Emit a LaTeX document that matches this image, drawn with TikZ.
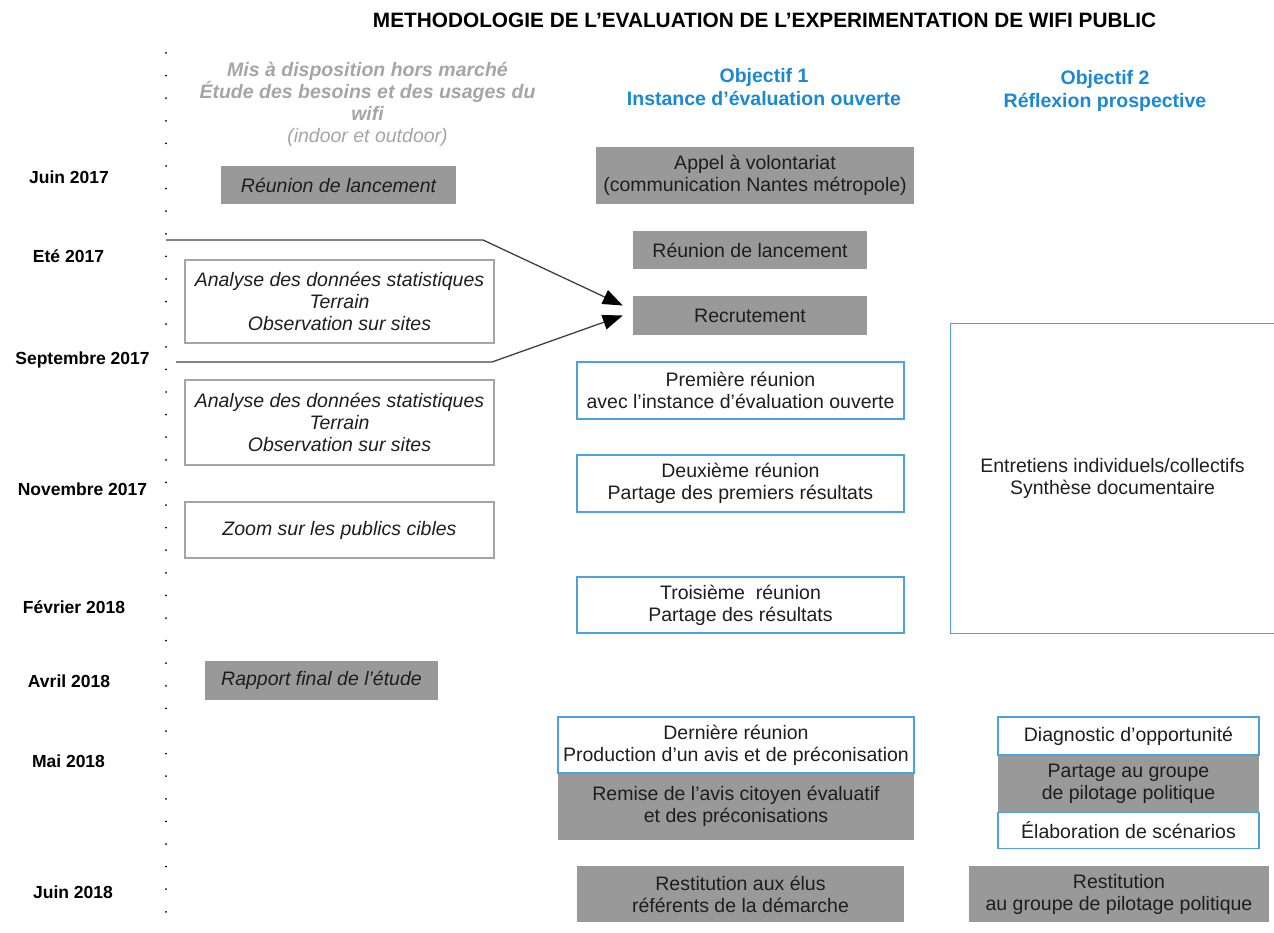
\documentclass[tikz,border=0pt]{standalone}
\usepackage{fontspec}
\setmainfont{Liberation Sans}
\usetikzlibrary{arrows.meta}

\definecolor{boxgray}{RGB}{153,153,153}
\definecolor{objblue}{RGB}{26,136,214}
\definecolor{lineblue}{RGB}{74,163,223}
\definecolor{hdrgray}{RGB}{165,165,165}
\definecolor{txtdark}{RGB}{30,30,30}

\tikzset{
	txt/.style={font=\fontsize{19.5}{22}\selectfont, align=center, text=txtdark, inner sep=0pt},
	ital/.style={txt, font=\fontsize{19.5}{22}\selectfont\itshape},
	graybox/.style 2 args={fill=boxgray, minimum width=#1pt, minimum height=#2pt},
	whitebox/.style 2 args={draw=hdrgray, line width=1.2pt, minimum width=#1pt, minimum height=#2pt},
	bluebox/.style 2 args={draw=lineblue, line width=1.2pt, fill=white, minimum width=#1pt, minimum height=#2pt},
	month/.style={font=\fontsize{17.5}{20}\selectfont\bfseries, inner sep=0pt},
	objtitle/.style={font=\fontsize{19.5}{23}\selectfont\bfseries, text=objblue, align=center, inner sep=0pt},
	conn/.style={draw=black!75, line width=1.3pt, -{Triangle[length=20pt,width=15pt,color=black]}}
}

\begin{document}
\begin{tikzpicture}[x=1pt, y=-1pt]
	\useasboundingbox (0,0) rectangle (1274,933);
	% title
	\node[font=\fontsize{20.8}{24}\selectfont\bfseries, inner sep=0pt] (title) at (764.5,20)
		{METHODOLOGIE DE L’EVALUATION DE L’EXPERIMENTATION DE WIFI PUBLIC};
	% time axis
	\foreach \i in {0,...,38}{
		\fill (166,53+22.6*\i) circle (1pt);
	}
	\foreach \x/\y/\m [count=\k] in {69/177/Juin 2017, 68.5/256/Eté 2017, 82.5/360/Septembre 2017,
		82.5/489/Novembre 2017, 74/607/Février 2018, 69/681/Avril 2018, 68.5/761/Mai 2018, 73/892/Juin 2018}{
		\node[month] (m\k) at (\x,\y) {\m};
	}
	% column headers
	\node[txt, font=\fontsize{19.5}{22}\selectfont\bfseries\itshape, text=hdrgray] (hdrA) at (367.5,104)
		{Mis à disposition hors marché\\Étude des besoins et des usages du\\wifi\\{\mdseries (indoor et outdoor)}};
	\node[objtitle] (hdrB) at (764,87.5) {Objectif 1\\Instance d’évaluation ouverte};
	\node[objtitle] (hdrC) at (1105,91) {Objectif 2\\Réflexion prospective};
	% study column
	\node[ital, graybox={235}{38}] (lancA) at (338.5,185) {Réunion de lancement};
	\node[ital, whitebox={309}{83}] (anaA) at (339.5,301.5) {Analyse des données statistiques\\Terrain\\Observation sur sites};
	\node[ital, whitebox={309}{85}] (anaB) at (339.5,422.5) {Analyse des données statistiques\\Terrain\\Observation sur sites};
	\node[ital, whitebox={309}{56}] (zoom) at (339.5,530) {Zoom sur les publics cibles};
	\node[ital, graybox={233}{39}] (rapport) at (321.5,680.5) {Rapport final de l’étude};
	% objectif 1
	\node[txt, graybox={318}{57}] (appel) at (755,175.5) {Appel à volontariat\\(communication Nantes métropole)};
	\node[txt, graybox={234}{38}] (lancB) at (750,250) {Réunion de lancement};
	\node[txt, graybox={234}{39}] (recrut) at (750,315.5) {Recrutement};
	\node[txt, bluebox={327}{57}] (prem) at (740.5,390.5) {Première réunion\\avec l’instance d’évaluation ouverte};
	\node[txt, bluebox={327}{57}] (deux) at (740.5,483.5) {Deuxième réunion\\Partage des premiers résultats};
	\node[txt, bluebox={327}{56}] (trois) at (740.5,605) {Troisième\ \ réunion\\Partage des résultats};
	\node[txt, bluebox={356}{56}] (dern) at (736,745) {Dernière réunion\\Production d’un avis et de préconisation};
	\node[txt, graybox={356}{66}, anchor=north] (remise) at (dern.south) {Remise de l’avis citoyen évaluatif\\et des préconisations};
	\node[txt, graybox={327}{56}] (restA) at (740.5,894) {Restitution aux élus\\référents de la démarche};
	% objectif 2
	\node[txt, minimum width=323pt, minimum height=309pt] (entret) at (1112.5,478.5) {Entretiens individuels/collectifs\\Synthèse documentaire};
	\draw[lineblue, line width=1.2pt] (entret.north east) -- (entret.north west) -- (entret.south west) -- (entret.south east);
	\node[txt, bluebox={261}{38}] (diag) at (1128.5,736) {Diagnostic d’opportunité};
	\node[txt, graybox={261}{56}, anchor=north] (partage) at (diag.south) {Partage au groupe\\de pilotage politique};
	\node[txt, bluebox={261}{36}, anchor=north] (elab) at (partage.south) {Élaboration de scénarios};
	\node[txt, graybox={300}{56}] (restB) at (1119,894) {Restitution\\au groupe de pilotage politique};
	% period arrows
	\coordinate (ta) at (166,240);
	\coordinate (tb) at (483,240);
	\coordinate (sa) at (176,362);
	\coordinate (sb) at (492,362);
	\draw[conn] (ta) -- (tb) -- ([xshift=-10pt,yshift=10pt]recrut.west);
	\draw[conn] (sa) -- (sb) -- ([xshift=-10pt]recrut.west);
\end{tikzpicture}
\end{document}
